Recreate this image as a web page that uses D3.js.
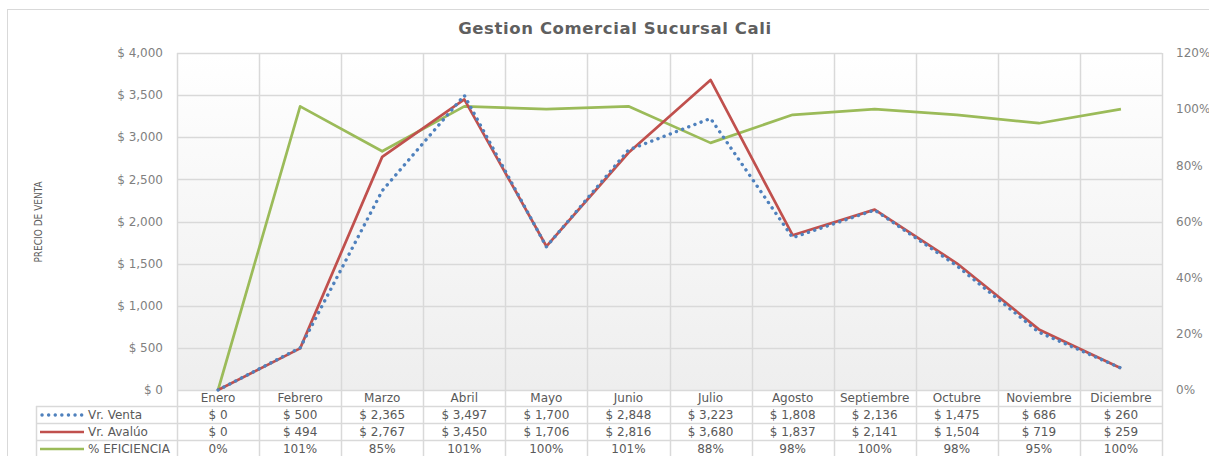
<!DOCTYPE html>
<html><head><meta charset="utf-8">
<script src="https://cdn.jsdelivr.net/npm/d3@7"></script>
<style>body{margin:0;background:#fff}svg{display:block}</style>
</head><body>
<svg id="c" width="1209" height="456"></svg>
<script>
const categories = ["Enero","Febrero","Marzo","Abril","Mayo","Junio","Julio","Agosto","Septiembre","Octubre","Noviembre","Diciembre"];
const ventaValues = [0,500,2365,3497,1700,2848,3223,1808,2136,1475,686,260];
const avaluoValues = [0,494,2767,3450,1706,2816,3680,1837,2141,1504,719,259];
const eficienciaValues = [0,1.01,0.85,1.01,1.00,1.01,0.88,0.98,1.00,0.98,0.95,1.00];
const leftTicks = [0,500,1000,1500,2000,2500,3000,3500,4000];
const rightTicks = [0,0.2,0.4,0.6,0.8,1.0,1.2];
const seriesNames = ["Vr. Venta","Vr. Avalúo","% EFICIENCIA"];

const svg = d3.select("#c");
const FONT = "DejaVu Sans, Verdana, sans-serif";
const FS = 12;
const L=177,R=1162,T=53,B=390;
const x = d3.scaleBand().domain(categories).range([L,R]).padding(0);
const y = d3.scaleLinear().domain([0,4000]).range([B,T]);
const y2 = d3.scaleLinear().domain([0,1.2]).range([B,T]);

const defs = svg.append("defs");
const g = defs.append("linearGradient").attr("id","bg").attr("x1",0).attr("y1",0).attr("x2",0).attr("y2",1);
g.append("stop").attr("offset","0%").attr("stop-color","#ffffff");
g.append("stop").attr("offset","100%").attr("stop-color","#eeeeee");

// outer border
svg.append("rect").attr("x",7.5).attr("y",9.5).attr("width",1215).attr("height",460)
  .attr("fill","none").attr("stroke","#d9d9d9");

// plot background
svg.append("rect").attr("x",L).attr("y",T).attr("width",R-L).attr("height",B-T).attr("fill","url(#bg)");

// horizontal gridlines
svg.append("g").selectAll("line").data(leftTicks).join("line")
  .attr("x1",L).attr("x2",R).attr("y1",d=>Math.round(y(d))+0.5).attr("y2",d=>Math.round(y(d))+0.5)
  .attr("stroke","#d9d9d9").attr("stroke-width",1.5);

// vertical gridlines (column boundaries) through the table
const bounds = categories.map(c=>x(c)).concat([R]);
svg.append("g").selectAll("line").data(bounds).join("line")
  .attr("x1",d=>Math.round(d)+0.5).attr("x2",d=>Math.round(d)+0.5).attr("y1",T).attr("y2",456)
  .attr("stroke","#d9d9d9").attr("stroke-width",1.5);

// table horizontal lines
const rowLines = [406,423,440];
svg.append("g").selectAll("line").data(rowLines).join("line")
  .attr("x1",36).attr("x2",R).attr("y1",d=>d+0.5).attr("y2",d=>d+0.5)
  .attr("stroke","#d9d9d9").attr("stroke-width",1.5);
svg.append("line").attr("x1",36.5).attr("x2",36.5).attr("y1",406).attr("y2",456).attr("stroke","#d9d9d9").attr("stroke-width",1.5);

// left axis labels
const fmt$ = d=>"$ "+d3.format(",")(d);
svg.append("g").selectAll("text").data(leftTicks).join("text")
  .attr("x",163).attr("y",d=>y(d)).attr("dy","0.35em").attr("text-anchor","end")
  .attr("font-family",FONT).attr("font-size",FS).attr("fill","#7f7f7f").text(fmt$);

// right axis labels
svg.append("g").selectAll("text").data(rightTicks).join("text")
  .attr("x",1176).attr("y",d=>y2(d)).attr("dy","0.35em").attr("text-anchor","start")
  .attr("font-family",FONT).attr("font-size",FS).attr("fill","#7f7f7f").text(d=>d3.format(".0%")(d));

// title
svg.append("text").attr("x",615).attr("y",34).attr("text-anchor","middle")
  .attr("font-family",FONT).attr("font-size",16.5).attr("font-weight","bold").attr("fill","#5f5f5f")
  .attr("letter-spacing",0.6).text("Gestion Comercial Sucursal Cali");

// y-axis title
svg.append("text").attr("transform","translate(42,222) rotate(-90)").attr("text-anchor","middle")
  .attr("font-family","Liberation Sans Narrow, DejaVu Sans Condensed, sans-serif").attr("font-size",10)
  .attr("fill","#595959").text("PRECIO DE VENTA");

// lines
const cx = c=>x(c)+x.bandwidth()/2;
const lineV = d3.line().x((d,i)=>cx(categories[i])).y(d=>y(d));
const lineE = d3.line().x((d,i)=>cx(categories[i])).y(d=>y2(d));
svg.append("path").datum(eficienciaValues).attr("d",lineE).attr("fill","none")
  .attr("stroke","#9bbb59").attr("stroke-width",2.7).attr("stroke-linejoin","round");
svg.append("path").datum(avaluoValues).attr("d",lineV).attr("fill","none")
  .attr("stroke","#c0504d").attr("stroke-width",2.7).attr("stroke-linejoin","round");
svg.append("path").datum(ventaValues).attr("d",lineV).attr("fill","none")
  .attr("stroke","#4f81bd").attr("stroke-width",3.4).attr("stroke-linecap","round")
  .attr("stroke-dasharray","0.1,6.5");

// table text
svg.append("g").selectAll("text").data(categories).join("text")
  .attr("x",d=>cx(d)).attr("y",398).attr("dy","0.35em").attr("text-anchor","middle")
  .attr("font-family",FONT).attr("font-size",FS).attr("fill","#595959").text(d=>d);
const rows = [ventaValues.map(fmt$), avaluoValues.map(fmt$), eficienciaValues.map(d=>d3.format(".0%")(d))];
const rowY = [415,432,449];
rows.forEach((r,ri)=>{
  svg.append("g").selectAll("text").data(r).join("text")
    .attr("x",(d,i)=>cx(categories[i])).attr("y",rowY[ri]).attr("dy","0.35em").attr("text-anchor","middle")
    .attr("font-family",FONT).attr("font-size",FS).attr("fill","#595959").text(d=>d);
});

// legend in table
const legStyles = [
  {stroke:"#4f81bd",w:3.4,dash:"0.1,6.5",cap:"round"},
  {stroke:"#c0504d",w:2.7,dash:null,cap:"butt"},
  {stroke:"#9bbb59",w:2.7,dash:null,cap:"butt"}];
seriesNames.forEach((n,i)=>{
  const s = legStyles[i];
  svg.append("line").attr("x1",i===0?42:40).attr("x2",84).attr("y1",rowY[i]).attr("y2",rowY[i])
    .attr("stroke",s.stroke).attr("stroke-width",s.w).attr("stroke-linecap",s.cap).attr("stroke-dasharray",s.dash);
  svg.append("text").attr("x",88).attr("y",rowY[i]).attr("dy","0.35em")
    .attr("font-family",FONT).attr("font-size",FS).attr("fill","#595959").text(n);
});
</script>
</body></html>
